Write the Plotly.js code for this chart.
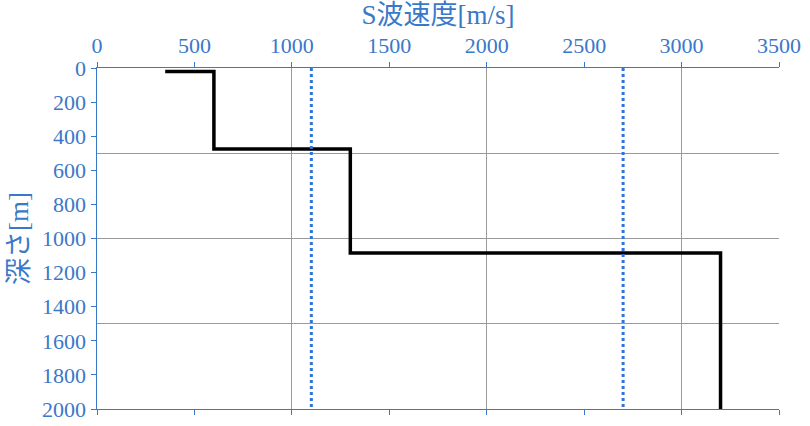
<!DOCTYPE html>
<html>
<head>
<meta charset="utf-8">
<script src="https://cdn.plot.ly/plotly-3.0.1.min.js"></script>
<style>html,body{margin:0;padding:0;background:#fff}#chart{width:810px;height:426px}</style>
</head>
<body>
<div id="chart"></div>
<script>
// Step profile of S-wave velocity vs depth
const stepVelocity = [350, 600, 600, 1300, 1300, 3200, 3200];
const stepDepth = [20, 20, 475, 475, 1085, 1085, 2000];
// Reference (dotted) velocities
const refVelocities = [1100, 2700];
const refDepthRange = [0, 2000];

const blue = '#3a78c9';
const fontFam = 'Liberation Serif, Noto Sans CJK JP, serif';

const traces = [{
  x: stepVelocity, y: stepDepth, mode: 'lines', type: 'scatter',
  line: {color: '#000', width: 3.5}, hoverinfo: 'skip', showlegend: false
}];
refVelocities.forEach(v => {
  traces.push({
    x: [v, v], y: refDepthRange, mode: 'lines', type: 'scatter',
    line: {color: '#2f74d6', width: 3, dash: 'dot'}, hoverinfo: 'skip', showlegend: false
  });
});

const layout = {
  width: 810, height: 426,
  margin: {l: 97, r: 31, t: 68, b: 17},
  paper_bgcolor: '#fff', plot_bgcolor: '#fff',
  font: {family: fontFam, color: blue, size: 22},
  xaxis: {
    side: 'top', range: [0, 3500], dtick: 500, tick0: 0,
    showgrid: false, zeroline: false, showline: true, linecolor: blue, linewidth: 1,
    ticks: 'outside', ticklen: 5, tickcolor: blue,
    tickfont: {family: fontFam, size: 22, color: blue},
    title: {text: 'S波速度[m/s]', font: {family: fontFam, size: 27, color: blue}, standoff: 3}
  },
  xaxis2: {
    overlaying: 'x', side: 'bottom', range: [0, 3500], dtick: 500, tick0: 0,
    showgrid: false, zeroline: false, showline: true, linecolor: blue, linewidth: 1,
    ticks: 'outside', ticklen: 5, tickcolor: blue, showticklabels: false
  },
  xaxis3: {
    overlaying: 'x', side: 'bottom', range: [0, 3500], dtick: 1000, tick0: 0,
    showgrid: true, gridcolor: '#9a9a9a', gridwidth: 1, zeroline: false,
    showline: false, ticks: '', showticklabels: false
  },
  yaxis: {
    range: [2000, 0], dtick: 200, tick0: 0,
    showgrid: false, zeroline: false, showline: true, linecolor: blue, linewidth: 1.5,
    ticks: 'outside', ticklen: 5, tickcolor: blue,
    tickfont: {family: fontFam, size: 22, color: blue},
    title: {text: '深さ[m]', font: {family: fontFam, size: 27, color: blue}, standoff: 5}
  },
  yaxis2: {
    overlaying: 'y', range: [2000, 0], dtick: 500, tick0: 0,
    showgrid: true, gridcolor: '#9a9a9a', gridwidth: 1, zeroline: false,
    showline: false, ticks: '', showticklabels: false
  }
};

// Invisible helper traces that activate the overlay axes (ticks / gridlines)
traces.unshift({x: [0], y: [0], xaxis: 'x3', yaxis: 'y2', mode: 'markers', marker: {opacity: 0}, hoverinfo: 'skip', showlegend: false});
traces.unshift({x: [0], y: [0], xaxis: 'x2', yaxis: 'y', mode: 'markers', marker: {opacity: 0}, hoverinfo: 'skip', showlegend: false});

Plotly.newPlot('chart', traces, layout, {displayModeBar: false, staticPlot: true});
</script>
</body>
</html>
